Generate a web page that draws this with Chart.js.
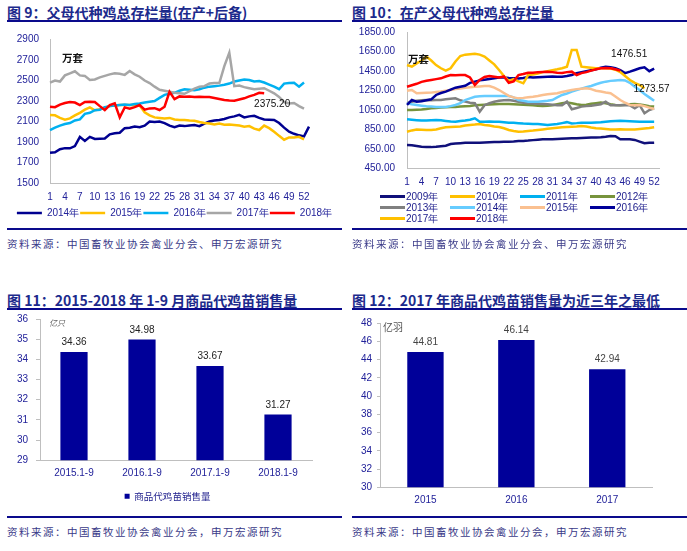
<!DOCTYPE html>
<html>
<head>
<meta charset="utf-8">
<script src="https://cdn.jsdelivr.net/npm/chart.js@4.4.0/dist/chart.umd.min.js"></script>
<style>
body{margin:0;background:#fff;width:687px;height:551px;position:relative;overflow:hidden;font-family:'Liberation Sans',Arial,sans-serif}
.ttl{position:absolute;font-family:'Noto Sans CJK SC';font-weight:bold;font-size:14px;color:#1c2a8c;white-space:nowrap;line-height:18px}
.rule{position:absolute;height:2px;background:#0a0a8c}
.src{position:absolute;font-family:'Noto Sans CJK SC';font-size:10.5px;color:#3a3a88;letter-spacing:1.5px;white-space:nowrap;line-height:14px}
canvas{position:absolute}
.unit{position:absolute;white-space:nowrap;font-family:'Noto Sans CJK SC'}
.lgi{position:absolute;white-space:nowrap;font-size:10px;color:#1a1a8a;line-height:11px}
.lgi span{display:inline-block;width:25px;height:3px;vertical-align:middle;margin-right:1px;margin-top:-2px}
</style>
</head>
<body>
<div class="ttl" style="left:7px;top:3px">图 9：父母代种鸡总存栏量(在产+后备)</div>
<div class="rule" style="left:7px;top:20px;width:335px"></div>
<div class="ttl" style="left:352px;top:3px">图 10：在产父母代种鸡总存栏量</div>
<div class="rule" style="left:352px;top:20px;width:335px"></div>

<canvas id="c9" width="335" height="200" style="left:7px;top:28px"></canvas>
<canvas id="c10" width="335" height="170" style="left:352px;top:24px"></canvas>
<div class="unit" style="left:62px;top:50px;font-size:10.5px;font-weight:bold;color:#111">万套</div>
<div class="unit" style="left:408px;top:51px;font-size:10.5px;font-weight:bold;color:#111">万套</div>
<div id="lg10" style="position:absolute;left:380px;top:191px"></div>

<div class="rule" style="left:7px;top:228px;width:335px"></div>
<div class="rule" style="left:352px;top:228px;width:335px"></div>
<div class="src" style="left:7px;top:237px">资料来源：中国畜牧业协会禽业分会、申万宏源研究</div>
<div class="src" style="left:352px;top:237px">资料来源：中国畜牧业协会禽业分会、申万宏源研究</div>

<div class="ttl" style="left:7px;top:291px">图 11：2015-2018 年 1-9 月商品代鸡苗销售量</div>
<div class="rule" style="left:7px;top:308px;width:335px"></div>
<div class="ttl" style="left:352px;top:291px">图 12：2017 年商品代鸡苗销售量为近三年之最低</div>
<div class="rule" style="left:352px;top:308px;width:335px"></div>

<canvas id="c11" width="335" height="206" style="left:7px;top:305px"></canvas>
<canvas id="c12" width="335" height="200" style="left:352px;top:312px"></canvas>
<div class="unit" style="left:49px;top:317px;font-size:8px;font-style:italic;color:#666">亿只</div>
<div class="unit" style="left:383px;top:319px;font-size:10px;color:#555">亿羽</div>

<div class="rule" style="left:7px;top:516px;width:335px"></div>
<div class="rule" style="left:352px;top:516px;width:335px"></div>
<div class="src" style="left:7px;top:525px">资料来源：中国畜牧业协会禽业分会，申万宏源研究</div>
<div class="src" style="left:352px;top:525px">资料来源：中国畜牧业协会禽业分会，申万宏源研究</div>

<script>
// week numbers on the x axis (1-53), only every 3rd one is labelled
const weeks = [1,2,3,4,5,6,7,8,9,10,11,12,13,14,15,16,17,18,19,20,21,22,23,24,25,26,27,28,29,30,
  31,32,33,34,35,36,37,38,39,40,41,42,43,44,45,46,47,48,49,50,51,52,53];

// 图9 父母代种鸡总存栏量 (万套)
const years9 = ['2014年','2015年','2016年','2017年','2018年'];
const colors9 = ['#000090','#FFC000','#00B0F0','#A6A6A6','#FF0000'];
const stock2014 = [1795,1800,1830,1840,1838,1860,1950,1910,1950,1930,1932,1935,1975,1985,1990,2035,2040,2050,2045,2060,
  2100,2095,2100,2085,2060,2045,2060,2055,2062,2065,2055,2080,2100,2110,2115,2125,2140,2150,2165,2140,
  2150,2155,2135,2120,2118,2115,2085,2040,2000,1980,1965,1955,2050];
const stock2015 = [2163,2160,2135,2118,2130,2160,2185,2215,2238,2210,2220,2235,2250,2255,2260,2262,2262,2260,2255,2190,
  2160,2140,2135,2130,2135,2120,2115,2115,2110,2108,2095,2085,2080,2072,2080,2068,2070,2065,2060,2050,
  2055,2030,2017,2060,2035,2000,1960,1922,1945,1945,1950,1925];
const stock2016 = [2017,2040,2060,2075,2085,2110,2120,2175,2185,2210,2215,2240,2250,2255,2260,2265,2262,2270,2275,2285,
  2293,2300,2330,2360,2370,2380,2400,2415,2410,2405,2415,2430,2440,2445,2450,2458,2470,2490,2500,2510,
  2505,2490,2495,2480,2460,2440,2415,2470,2475,2478,2440,2480];
const stock2017 = [2480,2500,2490,2550,2570,2590,2550,2545,2505,2510,2530,2545,2560,2570,2565,2555,2592,2560,2537,2500,
  2475,2440,2410,2400,2390,2380,2375,2370,2395,2420,2440,2445,2470,2475,2475,2640,2770,2445,2450,2435,
  2425,2415,2420,2425,2400,2375,2340,2290,2275,2280,2250,2225];
const stock2018 = [2245,2240,2265,2280,2290,2285,2260,2290,2292,2290,2250,2212,2261,2277,2141,2238,2225,2240,2261,2215,
  2228,2230,2212,2244,2390,2318,2345,2342,2345,2340,2342,2340,2338,2330,2320,2310,2305,2303,2315,2326,
  2345,2360,2380,2375.20];
const series9 = [stock2014, stock2015, stock2016, stock2017, stock2018];

// 图10 在产父母代种鸡总存栏量 (万套)
const years10 = ['2009年','2010年','2011年','2012年','2013年','2014年','2015年','2016年','2017年','2018年'];
const colors10 = ['#10107a','#FFC000','#00B0F0','#77933C','#808080','#66CCFF','#FAC090','#000099','#FFC000','#FF0000'];
const prod2009 = [690,688,680,673,670,668,672,678,682,700,705,708,712,712,714,714,716,718,720,722,
  724,724,726,730,732,735,740,745,749,750,748,752,755,757,759,760,762,764,766,768,
  770,775,783,780,749,748,749,742,725,708,712,714];
const prod2010 = [827,840,850,848,845,844,850,862,872,875,878,880,890,896,900,906,896,890,880,875,
  862,845,835,827,830,835,838,845,850,856,862,868,872,875,878,880,885,880,870,862,
  860,855,850,850,852,850,850,850,855,860,865,872];
const prod2011 = [955,950,945,941,942,945,948,945,938,932,930,936,941,950,965,930,930,932,930,930,
  925,920,918,914,910,908,907,905,900,896,900,905,915,925,912,915,920,918,920,922,
  925,930,935,938,940,938,935,932,930,930,930,930];
const prod2012 = [1050,1050,1052,1055,1060,1068,1070,1075,1078,1080,1082,1085,1088,1092,1098,1102,1105,1108,1110,1112,
  1112,1112,1110,1108,1105,1102,1100,1095,1092,1095,1100,1110,1120,1126,1120,1110,1102,1105,1115,1120,
  1126,1120,1110,1102,1100,1105,1110,1112,1108,1100,1090,1085];
const prod2013 = [1120,1135,1145,1150,1153,1150,1152,1153,1160,1165,1170,1150,1136,1125,1120,1033,1100,1120,1136,1145,
  1150,1153,1145,1135,1125,1120,1118,1115,1113,1110,1105,1100,1100,1136,1058,1070,1085,1090,1095,1102,
  1110,1136,1100,1100,1100,1100,1098,1068,1100,1017,1050,1067];
const prod2014 = [1120,1110,1102,1095,1088,1085,1082,1080,1082,1090,1102,1120,1153,1170,1187,1192,1195,1195,1195,1195,
  1195,1195,1180,1153,1145,1136,1136,1136,1140,1145,1153,1180,1205,1220,1240,1256,1270,1285,1297,1315,
  1330,1342,1350,1355,1359,1355,1330,1290,1255,1215,1180,1146];
const prod2015 = [1249,1256,1222,1225,1228,1229,1235,1240,1248,1256,1265,1272,1280,1285,1290,1293,1297,1297,1280,1256,
  1225,1195,1180,1170,1175,1182,1187,1195,1205,1212,1218,1222,1235,1245,1256,1265,1270,1273,1265,1249,
  1240,1230,1222,1190,1153,1125,1102,1100,1102,1090,1075,1060];
const prod2016 = [1102,1153,1136,1140,1150,1160,1205,1225,1239,1260,1280,1290,1300,1330,1342,1355,1362,1370,1378,1385,
  1385,1380,1378,1375,1380,1390,1385,1388,1390,1392,1395,1393,1393,1400,1410,1430,1440,1450,1460,1470,
  1485,1496,1490,1480,1460,1430,1445,1462,1480,1490,1450,1476.51];
const prod2017 = [1513,1496,1530,1560,1600,1560,1513,1480,1455,1480,1550,1606,1620,1625,1630,1620,1600,1560,1520,1462,
  1400,1349,1367,1345,1325,1410,1415,1425,1440,1450,1460,1469,1480,1496,1668,1668,1496,1490,1485,1480,
  1480,1480,1478,1465,1440,1400,1359,1330,1307,1273.57];
const prod2018 = [1290,1305,1320,1340,1352,1360,1368,1376,1395,1410,1408,1410,1410,1385,1307,1359,1390,1400,1393,1385,
  1395,1330,1345,1410,1420,1434,1434,1440,1442,1445,1440,1434,1430,1440,1445,1410,1430,1440,1455,1470,
  1480,1482,1480,1470,1455];
const series10 = [prod2009, prod2010, prod2011, prod2012, prod2013, prod2014, prod2015, prod2016, prod2017, prod2018];

// 图11 2015-2018年1-9月商品代鸡苗销售量 (亿只)
const periods11 = ['2015.1-9','2016.1-9','2017.1-9','2018.1-9'];
const sales11 = [34.36, 34.98, 33.67, 31.27];

// 图12 商品代鸡苗销售量 (亿羽)
const years12 = ['2015','2016','2017'];
const sales12 = [44.81, 46.14, 42.94];

const tickColor = '#22229a';
const axisColor = '#bfbfbf';
const numFont = { family: "'Liberation Sans', Arial", size: 10 };

// value above every bar
const barLabels = {
  id: 'barLabels',
  afterDatasetsDraw(chart, args, opts) {
    const ctx = chart.ctx;
    const ds = chart.data.datasets[0];
    ctx.save();
    ctx.font = "10px 'Liberation Sans', Arial";
    ctx.fillStyle = opts.color || '#222';
    ctx.textAlign = 'center';
    ctx.textBaseline = 'middle';
    chart.getDatasetMeta(0).data.forEach((bar, i) => {
      ctx.fillText(ds.data[i].toFixed(2), bar.x, bar.y - 9.5);
    });
    ctx.restore();
  }
};

// value next to the last point of some lines
const endLabels = {
  id: 'endLabels',
  afterDatasetsDraw(chart, args, opts) {
    const ctx = chart.ctx;
    ctx.save();
    ctx.font = "10px 'Liberation Sans', Arial";
    ctx.fillStyle = '#111';
    ctx.textAlign = 'center';
    ctx.textBaseline = 'middle';
    (opts.items || []).forEach(it => {
      const pts = chart.getDatasetMeta(it.ds).data;
      const last = pts[pts.length - 1];
      const v = chart.data.datasets[it.ds].data[pts.length - 1];
      ctx.fillText(v.toFixed(2), last.x + it.dx, last.y + it.dy);
    });
    ctx.restore();
  }
};

function lineSets(names, colors, series) {
  return names.map((n, i) => ({
    label: n,
    data: series[i],
    borderColor: colors[i],
    backgroundColor: colors[i],
    borderWidth: 2.5,
    pointRadius: 0,
    tension: 0,
    order: names.length - i
  }));
}

function weekAxis(height) {
  return {
    grid: { display: false, drawTicks: false },
    border: { color: axisColor },
    ticks: {
      autoSkip: false, maxRotation: 0, padding: 8, color: tickColor, font: numFont,
      callback: (v, i) => i % 3 === 0 ? weeks[i] : ''
    },
    afterFit: s => { s.height = height; }
  };
}

// empty axis on the right, only used to leave room there
function spacer(w) {
  return {
    position: 'right',
    grid: { display: false, drawTicks: false },
    border: { display: false },
    ticks: { display: false },
    afterFit: s => { s.width = w; }
  };
}

new Chart(document.getElementById('c9'), {
  type: 'line',
  data: { labels: weeks, datasets: lineSets(years9, colors9, series9) },
  options: {
    responsive: false,
    animation: false,
    layout: { padding: { top: 11.5, right: 0, left: 0, bottom: 0 } },
    scales: {
      x: weekAxis(24),
      y: {
        min: 1500, max: 2900,
        grid: { display: false, drawTicks: true, tickLength: 11 },
        border: { color: axisColor },
        ticks: { stepSize: 200, padding: 0, color: tickColor, font: numFont, callback: v => String(v) },
        afterFit: s => { s.width = 43; }
      },
      yr: spacer(33)
    },
    plugins: {
      legend: {
        position: 'bottom',
        labels: {
          usePointStyle: true, pointStyle: 'line', pointStyleWidth: 25,
          padding: 1, color: tickColor, font: numFont,
          sort: (a, b) => a.datasetIndex - b.datasetIndex
        }
      },
      tooltip: { enabled: false },
      endLabels: { items: [{ ds: 4, dx: 8, dy: 11 }] }
    }
  },
  plugins: [endLabels]
});

new Chart(document.getElementById('c10'), {
  type: 'line',
  data: { labels: weeks, datasets: lineSets(years10, colors10, series10) },
  options: {
    responsive: false,
    animation: false,
    layout: { padding: { top: 8.3, right: 28, left: 0, bottom: 0 } },
    scales: {
      x: weekAxis(25.7),
      y: {
        min: 450, max: 1850,
        grid: { display: false, drawTicks: true, tickLength: 12 },
        border: { color: axisColor },
        ticks: { stepSize: 200, padding: 0, color: tickColor, font: numFont, callback: v => v.toFixed(2) },
        afterFit: s => { s.width = 55; }
      }
    },
    plugins: {
      legend: { display: false },
      tooltip: { enabled: false },
      endLabels: { items: [{ ds: 7, dx: -25, dy: -14 }, { ds: 8, dx: 7, dy: 1 }] }
    }
  },
  plugins: [endLabels]
});

// legend for 图10 in four columns
const lg = document.getElementById('lg10');
years10.forEach((y, i) => {
  const it = document.createElement('div');
  it.className = 'lgi';
  it.style.left = (i % 4) * 70 + 'px';
  it.style.top = Math.floor(i / 4) * 11 + 'px';
  it.innerHTML = '<span style="background:' + colors10[i] + '"></span>' + y;
  lg.appendChild(it);
});

new Chart(document.getElementById('c11'), {
  type: 'bar',
  data: {
    labels: periods11,
    datasets: [{ label: '商品代鸡苗销售量', data: sales11, backgroundColor: '#000099', categoryPercentage: 1, barPercentage: 0.4 }]
  },
  options: {
    responsive: false,
    animation: false,
    layout: { padding: { top: 0, right: 14, left: 0, bottom: 0 } },
    scales: {
      x: {
        grid: { display: false, drawTicks: false },
        border: { color: axisColor },
        ticks: { padding: 7.3, color: tickColor, font: numFont },
        afterFit: s => { s.height = 25.25; }
      },
      y: {
        min: 29, max: 36,
        grid: { drawOnChartArea: false, drawTicks: true, tickLength: 4, color: axisColor },
        border: { color: axisColor },
        ticks: { stepSize: 1, padding: 8, color: tickColor, font: numFont },
        afterFit: s => { s.width = 33; }
      },
      yr: spacer(16)
    },
    plugins: {
      legend: {
        position: 'bottom',
        labels: { boxWidth: 5, boxHeight: 5, padding: 6, color: '#1a1a8a', font: { family: 'Noto Sans CJK SC', size: 9.5 } }
      },
      tooltip: { enabled: false },
      barLabels: { color: '#222' }
    }
  },
  plugins: [barLabels]
});

new Chart(document.getElementById('c12'), {
  type: 'bar',
  data: {
    labels: years12,
    datasets: [{ label: '商品代鸡苗销售量', data: sales12, backgroundColor: '#000099', categoryPercentage: 1, barPercentage: 0.4 }]
  },
  options: {
    responsive: false,
    animation: false,
    layout: { padding: { top: 10.7, right: 34.3, left: 0, bottom: 0 } },
    scales: {
      x: {
        grid: { display: false, drawTicks: false },
        border: { color: axisColor },
        ticks: { padding: 7.4, color: tickColor, font: numFont },
        afterFit: s => { s.height = 24.7; }
      },
      y: {
        min: 30, max: 48,
        grid: { drawOnChartArea: false, drawTicks: true, tickLength: 3, color: axisColor },
        border: { color: axisColor },
        ticks: { stepSize: 2, padding: 5, color: tickColor, font: numFont },
        afterFit: s => { s.width = 28; }
      }
    },
    plugins: {
      legend: { display: false },
      tooltip: { enabled: false },
      barLabels: { color: '#444' }
    }
  },
  plugins: [barLabels]
});
</script>
</body>
</html>
